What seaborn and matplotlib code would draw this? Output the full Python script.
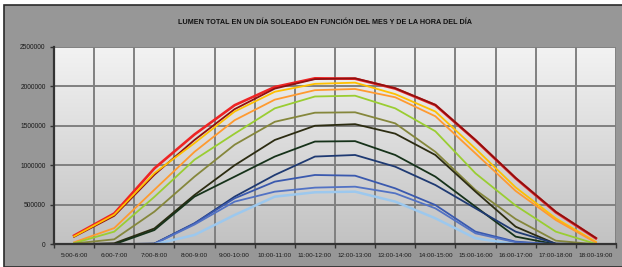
import numpy as np
import pandas as pd
import seaborn as sns
import matplotlib
matplotlib.use('Agg')
import matplotlib.pyplot as plt
from matplotlib.patches import Rectangle

horas = ['5:00-6:00', '6:00-7:00', '7:00-8:00', '8:00-9:00', '9:00-10:00',
         '10:00-11:00', '11:00-12:00', '12:00-13:00', '13:00-14:00',
         '14:00-15:00', '15:00-16:00', '16:00-17:00', '17:00-18:00', '18:00-19:00']

# lumen por hora, una serie por mes
rojo = [110000, 390000, 960000, 1390000, 1760000, 1990000, 2100000, 2095000,
        1970000, 1760000, 1315000, 835000, 405000, 75000]
granate = [95000, 360000, 880000, 1320000, 1710000, 1970000, 2090000, 2100000,
           1975000, 1765000, 1320000, 840000, 412000, 80000]
oro = [100000, 375000, 900000, 1280000, 1680000, 1930000, 2030000, 2045000,
       1900000, 1680000, 1210000, 720000, 328000, 30000]
naranja = [25000, 205000, 690000, 1170000, 1570000, 1830000, 1950000, 1965000,
           1860000, 1620000, 1150000, 675000, 307000, 21000]
verde = [15000, 160000, 600000, 1070000, 1400000, 1720000, 1870000, 1880000,
         1720000, 1430000, 898000, 490000, 160000, 5000]
oliva = [10000, 63000, 413000, 856000, 1260000, 1550000, 1665000, 1670000,
         1530000, 1170000, 687000, 320000, 46000, 0]
oliva_osc = [0, 13000, 200000, 624000, 1000000, 1320000, 1500000, 1520000,
             1400000, 1130000, 666000, 223000, 5000, 0]
verde_osc = [0, 0, 180000, 603000, 856000, 1110000, 1300000, 1305000,
             1130000, 856000, 476000, 97000, 0, 0]
marino = [0, 0, 10000, 265000, 603000, 877000, 1110000, 1130000,
          982000, 750000, 455000, 160000, 10000, 0]
azul = [0, 0, 5000, 265000, 582000, 793000, 877000, 868000,
        708000, 497000, 160000, 34000, 0, 0]
azul2 = [0, 0, 5000, 250000, 540000, 666000, 717000, 729000,
         645000, 455000, 139000, 25000, 0, 0]
celeste = [0, 0, 0, 118000, 371000, 603000, 658000, 666000,
           540000, 329000, 76000, 0, 0, 0]

series = {'rojo': rojo, 'granate': granate, 'oro': oro, 'naranja': naranja,
          'verde': verde, 'oliva': oliva, 'oliva_osc': oliva_osc,
          'verde_osc': verde_osc, 'marino': marino, 'azul': azul,
          'azul2': azul2, 'celeste': celeste}
colores = {'rojo': '#ee2424', 'granate': '#8e1010', 'oro': '#ffc000',
           'naranja': '#ff9a30', 'verde': '#9acd32', 'oliva': '#85873c',
           'oliva_osc': '#2c2c12', 'verde_osc': '#16321a', 'marino': '#1f3a72',
           'azul': '#3a59ae', 'azul2': '#5272c4', 'celeste': '#9cc8ee'}

df = pd.concat([pd.DataFrame({'x': np.arange(len(horas)), 'lumen': v, 'serie': k})
                for k, v in series.items()], ignore_index=True)

plt.rcParams['font.family'] = ['Liberation Sans', 'DejaVu Sans']

fig = plt.figure(figsize=(6.22, 2.67), dpi=100)
fig.patch.set_facecolor('white')
fig.patches.append(Rectangle((4 / 622, 0), 1, 1 - 5 / 267, transform=fig.transFigure,
                             facecolor='#979797', edgecolor='#2a2a2a', linewidth=1.2, zorder=-10))

ax = fig.add_axes([54 / 622, 1 - 244.3 / 267, (616 - 54) / 622, (244.3 - 46.7) / 267])
ax.set_facecolor('none')

# degradado del area de trazado
grad = np.linspace(0, 1, 256).reshape(-1, 1)
ax.imshow(grad, cmap=matplotlib.colors.LinearSegmentedColormap.from_list('g', ['#f3f3f3', '#c2c2c2']),
          extent=[0, 1, 0, 1], transform=ax.transAxes, aspect='auto', zorder=-5)

sns.lineplot(data=df, x='x', y='lumen', hue='serie', palette=colores,
             hue_order=list(series.keys()), linewidth=1.3, legend=False, ax=ax, zorder=3)
ax.lines[0].set_linewidth(1.9)
ax.lines[-1].set_linewidth(1.8)
for ln in ax.lines:
    ln.set_solid_joinstyle('round')

ax.set_xlim(-0.5, len(horas) - 0.5)
ax.set_ylim(0, 2500000)
ax.set_yticks(np.arange(0, 2500001, 500000))
ax.set_yticklabels([str(v) for v in range(0, 2500001, 500000)])
ax.set_xticks(np.arange(len(horas)))
ax.set_xticklabels(horas)
ax.set_xticks(np.arange(-0.5, len(horas), 1), minor=True)

ax.grid(False)
ax.grid(True, axis='y', which='major', color='#808080', linewidth=1.4, zorder=1)
ax.grid(True, axis='x', which='minor', color='#808080', linewidth=1.4, zorder=1)
ax.set_axisbelow(True)

ax.tick_params(axis='x', which='major', length=0, labelsize=4.6, pad=6, colors='#1a1a1a')
ax.tick_params(axis='x', which='minor', length=3, width=1, color='#333333')
ax.tick_params(axis='y', length=3, width=1, color='#333333', labelsize=4.8, pad=3, labelcolor='#1a1a1a')

for s in ['top', 'right']:
    ax.spines[s].set_visible(False)
for s in ['left', 'bottom']:
    ax.spines[s].set_color('#333333')
    ax.spines[s].set_linewidth(1.6)
    ax.spines[s].set_zorder(4)

ax.set_xlabel('')
ax.set_ylabel('')

fig.text(325 / 622, 1 - 23 / 267, 'LUMEN TOTAL EN UN DÍA SOLEADO EN FUNCIÓN DEL MES Y DE LA HORA DEL DÍA',
         ha='center', va='center', fontsize=5.2, fontweight='bold', color='#111111')

fig.savefig('out.png', dpi=100, facecolor=fig.get_facecolor())
